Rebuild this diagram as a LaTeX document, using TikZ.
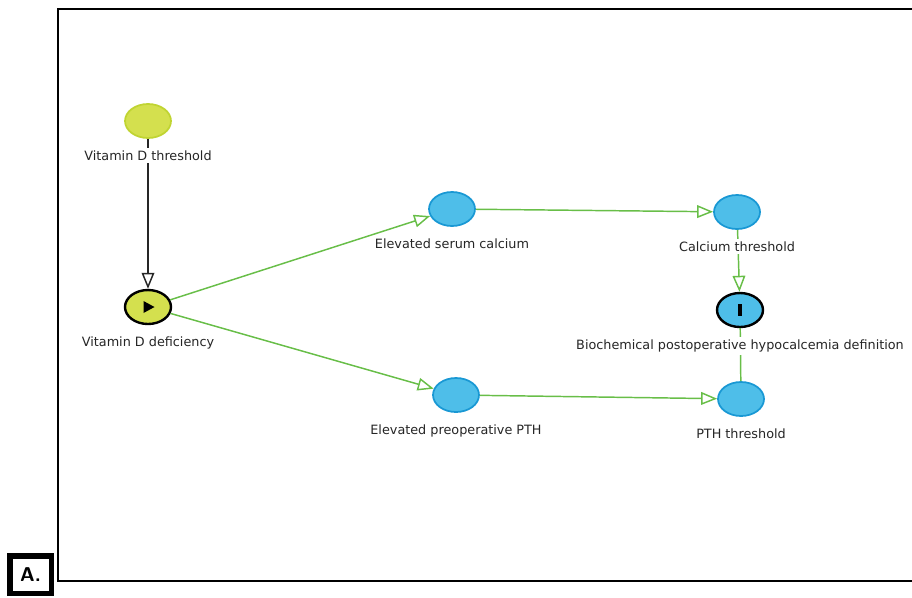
\documentclass[tikz,border=0pt]{standalone}
\usepackage{fontspec}
\setmainfont{DejaVu Sans}
\usepackage{xcolor}
\usepackage{tikz}
\usetikzlibrary{positioning, arrows.meta, shapes.geometric}

\definecolor{limefill}{RGB}{212,224,78}
\definecolor{limeline}{RGB}{192,212,50}
\definecolor{skyfill}{RGB}{78,190,233}
\definecolor{skyline}{RGB}{25,152,212}
\definecolor{linkgreen}{RGB}{104,190,72}

\begin{document}
\begin{tikzpicture}[
    x=0.75pt, y=-0.75pt,
    node distance=6.5pt,
    limenode/.style={ellipse, draw=limeline, line width=1.3pt, fill=limefill, minimum width=34.5pt, minimum height=25.5pt, inner sep=0pt},
    skynode/.style={ellipse, draw=skyline, line width=1.3pt, fill=skyfill, minimum width=34.5pt, minimum height=25.5pt, inner sep=0pt},
    keynode/.style={draw=black, line width=1.8pt},
    mylabel/.style={fill=white, inner sep=2pt, font=\fontsize{9.6}{11}\selectfont, text=black!85},
    greenarrow/.style={-{Triangle[open, length=12pt, width=9.5pt]}, draw=linkgreen, line width=1.1pt},
    blackarrow/.style={-{Triangle[open, length=12pt, width=9.5pt]}, draw=black!85, line width=1.1pt}
]

  \useasboundingbox (0,0) rectangle (912,597);

  % Frame
  \draw[line width=1.5pt] (912,9) -- (58,9) -- (58,581) -- (912,581);
  \node[draw, line width=4pt, minimum width=31pt, minimum height=28pt, inner sep=0pt, font=\sffamily\bfseries\fontsize{15}{15}\selectfont] (tag) at (30.5,574.5) {A.};

  % Nodes
  \node[limenode] (vdt) at (148,121) {};
  \node[limenode, keynode] (vdd) at (148,307) {};
  \node[skynode] (esc) at (452,209) {};
  \node[skynode] (ct) at (737,212) {};
  \node[skynode, keynode] (bio) at (740,310) {};
  \node[skynode] (epp) at (456,395) {};
  \node[skynode] (pth) at (741,399) {};

  % Marks inside
  \fill (vdd.center) ++(-4.5,-6) -- ++(11,6) -- ++(-11,6) -- cycle;
  \fill ([xshift=-1.5pt, yshift=-4.5pt]bio.center) rectangle ++(3pt,9pt);

  % Arrows
  \draw[blackarrow] (vdt) -- (vdd);
  \draw[greenarrow] (vdd) -- (esc);
  \draw[greenarrow] (vdd) -- (epp);
  \draw[greenarrow] (esc) -- (ct);
  \draw[greenarrow] (epp) -- (pth);
  \draw[greenarrow] (ct) -- (bio);
  \draw[draw=linkgreen, line width=1.1pt] (pth) -- (bio);

  % Labels
  \node[mylabel, below=of vdt] (vdtl) {Vitamin D threshold};
  \node[mylabel, below=of vdd] (vddl) {Vitamin D deficiency};
  \node[mylabel, below=of esc] (escl) {Elevated serum calcium};
  \node[mylabel, below=of ct] (ctl) {Calcium threshold};
  \node[mylabel, below=of bio] (biol) {Biochemical postoperative hypocalcemia definition};
  \node[mylabel, below=of epp] (eppl) {Elevated preoperative PTH};
  \node[mylabel, below=of pth] (pthl) {PTH threshold};

\end{tikzpicture}
\end{document}
